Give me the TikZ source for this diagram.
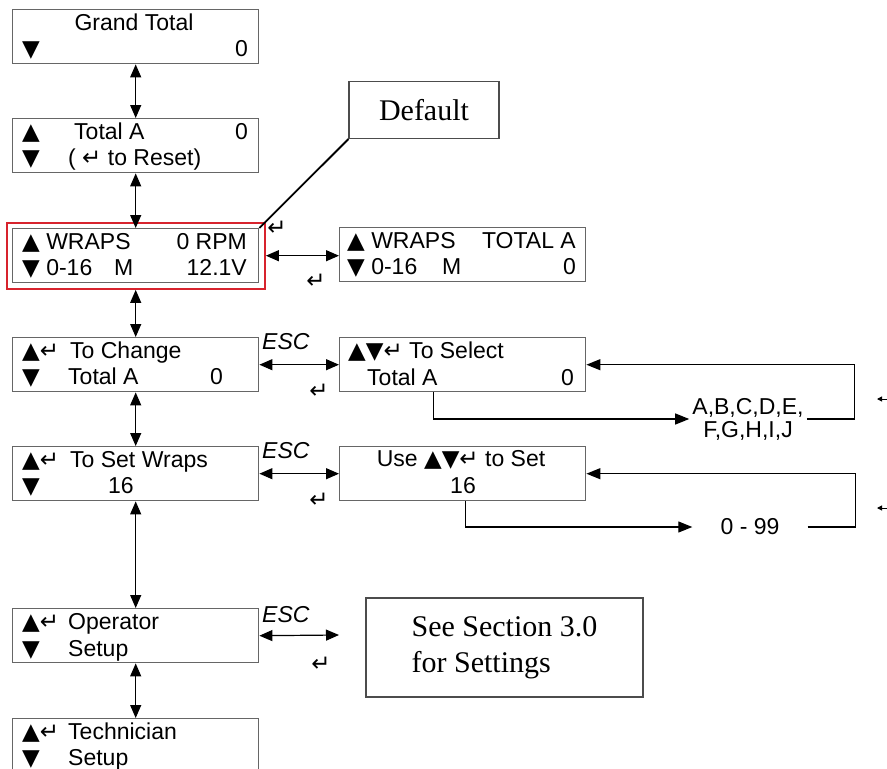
\documentclass[tikz,border=0pt]{standalone}
\usepackage{fontspec}
\setmainfont{Liberation Sans}
\newfontfamily\serifrm{Liberation Serif}
\newfontfamily\symf{DejaVu Sans}
\usetikzlibrary{arrows.meta,fit}
\definecolor{hlred}{RGB}{215,35,45}
\newcommand{\keyup}{{\symf ▲}}
\newcommand{\keydn}{{\symf ▼}}
\newcommand{\keyent}{{\symf\fontsize{23}{23}\selectfont ↵}}

\begin{document}
\begin{tikzpicture}[x=1pt,y=-1pt,
  font=\fontsize{23}{26}\selectfont,
  lcd/.style={draw=black!60,line width=1.4pt,minimum width=246pt,minimum height=54pt,inner sep=0pt,anchor=north west},
  txt/.style={inner sep=0pt,anchor=base west},
  rtxt/.style={inner sep=0pt,anchor=base east},
  ctxt/.style={inner sep=0pt,anchor=base},
  arr/.style={-{Triangle[length=14pt,width=11pt]},line width=1.2pt},
  darr/.style={{Triangle[length=13pt,width=11pt]}-{Triangle[length=13pt,width=11pt]},line width=1.2pt},
  esc/.style={inner sep=0pt,anchor=base west,font=\fontsize{23}{26}\selectfont\itshape},
  note/.style={draw=black!70,line width=1.2pt,font=\serifrm\fontsize{30}{36}\selectfont}]

\useasboundingbox (0,0) rectangle (887,769);
\clip (0,0) rectangle (887,769);

% display boxes, left column
\node[lcd] (gt) at (12,9) {};
\node[lcd] (ta) at (12,118) {};
\node[lcd] (wr) at (12,228) {};
\node[lcd] (ch) at (12,337) {};
\node[lcd] (sw) at (12,446) {};
\node[lcd] (op) at (12,608) {};
\node[lcd] (te) at (12,718) {};
% display boxes, right column
\node[lcd] (wt) at (339,227) {};
\node[lcd] (sel) at (339,337) {};
\node[lcd] (use) at (339,446) {};
\node[draw=hlred,line width=2pt,inner sep=5.5pt,fit=(wr)] (hl) {};

% notes
\node[note,minimum width=150pt,minimum height=57pt] (dflt) at (424,110) {Default};
\node[note,minimum width=277pt,minimum height=99pt,align=left] (see) at (504.5,647.5) {See Section 3.0\\for Settings};
\draw[line width=1.8pt] (dflt.south west) -- (wr.north east);

% texts
\node[ctxt] (gt1) at (134,30) {Grand Total};
\node[txt] (gt2) at (22,56) {\keydn};
\node[rtxt] (gt3) at (248,56) {0};

\node[txt] (ta1) at (22,139) {\keyup};
\node[txt] (ta2) at (74,139) {Total A};
\node[rtxt] (ta3) at (248,139) {0};
\node[txt] (ta4) at (22,165) {\keydn};
\node[txt] (ta5) at (68,165) {( \keyent\ to Reset)};

\node[txt] (wr1) at (22,249) {\keyup\ WRAPS};
\node[rtxt] (wr2) at (247,249) {0 RPM};
\node[txt] (wr3) at (22,275) {\keydn\ 0-16};
\node[txt] (wr4) at (114,275) {M};
\node[rtxt] (wr5) at (247,275) {12.1V};

\node[txt] (ch1) at (22,358) {\keyup\keyent};
\node[txt] (ch2) at (70,358) {To Change};
\node[txt] (ch3) at (22,384) {\keydn};
\node[txt] (ch4) at (68,384) {Total A};
\node[rtxt] (ch5) at (223,384) {0};

\node[txt] (sw1) at (22,467) {\keyup\keyent};
\node[txt] (sw2) at (70,467) {To Set Wraps};
\node[txt] (sw3) at (22,493) {\keydn};
\node[txt] (sw4) at (108,493) {16};

\node[txt] (op1) at (22,629) {\keyup\keyent};
\node[txt] (op2) at (68,629) {Operator};
\node[txt] (op3) at (22,656) {\keydn};
\node[txt] (op4) at (68,656) {Setup};

\node[txt] (te1) at (22,739) {\keyup\keyent};
\node[txt] (te2) at (68,739) {Technician};
\node[txt] (te3) at (22,765) {\keydn};
\node[txt] (te4) at (68,765) {Setup};

\node[txt] (wt1) at (347,248) {\keyup\ WRAPS};
\node[rtxt] (wt2) at (576,248) {TOTAL A};
\node[txt] (wt3) at (347,274) {\keydn\ 0-16};
\node[txt] (wt4) at (442,274) {M};
\node[rtxt] (wt5) at (576,274) {0};

\node[txt] (sel1) at (348,358) {\keyup\keydn\keyent\ To Select};
\node[txt] (sel2) at (367,385) {Total A};
\node[rtxt] (sel3) at (574,385) {0};

\node[ctxt] (use1) at (461,466) {Use \keyup\keydn\keyent\ to Set};
\node[ctxt] (use2) at (463,493) {16};

% menu arrows
\draw[darr] (gt) -- (ta);
\draw[darr] (ta.south) -- (wr.north);
\draw[darr] (hl.south) -- (ch.north);
\draw[darr] (ch) -- (sw);
\draw[darr] (sw) -- (op);
\draw[darr] (op) -- (te);

\coordinate (opx) at (339,635);
\draw[darr] (hl.east) -- (hl.east -| wt.west);
\draw[darr] (ch.east) -- (sel.west);
\draw[darr] (sw.east) -- (use.west);
\draw[darr] (op.east) -- (opx);

\node[esc] (esc1) at (262,349) {ESC};
\node[esc] (esc2) at (262,458) {ESC};
\node[esc] (esc3) at (262,622) {ESC};

\node (ent1) at (277,228) {\keyent};
\node (ent2) at (316,281) {\keyent};
\node (ent3) at (319,391) {\keyent};
\node (ent4) at (319,500) {\keyent};
\node (ent5) at (321,664) {\keyent};

% value loops
\node[align=center,inner xsep=3pt,font=\fontsize{23}{23}\selectfont] (abc) at (748,419) {A,B,C,D,E,\\F,G,H,I,J};
\node[minimum width=115pt,inner sep=0pt] (nn) at (750,527) {0 - 99};
\draw[arr] ([xshift=-29.5pt]sel.south) |- (abc.west);
\draw[arr] (abc.east) -- ++(48,0) |- (sel.east);
\draw[arr] ([xshift=2.5pt]use.south) |- (nn.west);
\draw[arr] (nn.east) -- ++(48,0) |- (use.east);

\coordinate (cutA) at (888,399);
\coordinate (cutB) at (888,508);
\draw[-{Triangle[length=5pt,width=5pt]},line width=1pt] (cutA) -- ++(-11,0);
\draw[-{Triangle[length=5pt,width=5pt]},line width=1pt] (cutB) -- ++(-11,0);
\end{tikzpicture}
\end{document}
